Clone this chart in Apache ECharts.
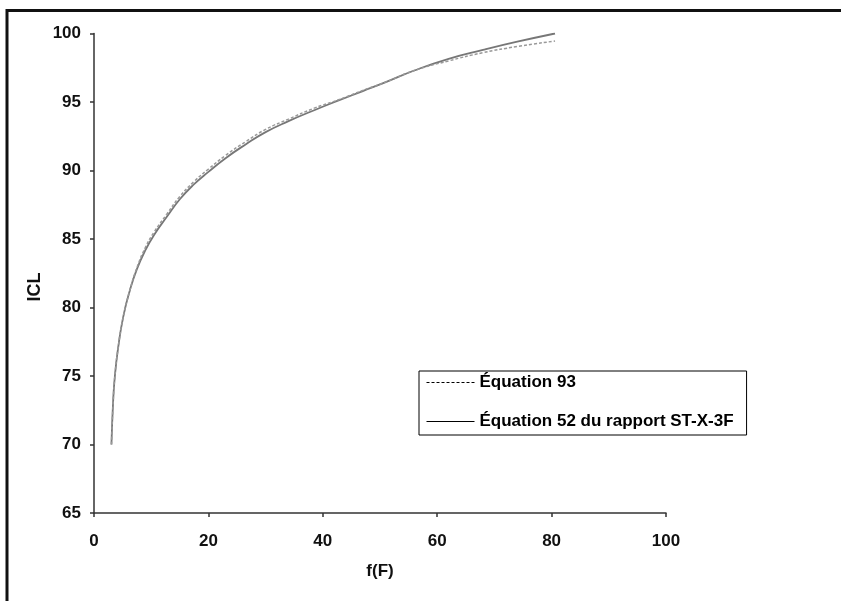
<!DOCTYPE html>
<html>
<head>
<meta charset="utf-8">
<script src="https://cdn.jsdelivr.net/npm/echarts@6/dist/echarts.min.js"></script>
<style>
  html, body { margin: 0; padding: 0; background: #fff; }
  #chart { width: 841px; height: 601px; }
</style>
</head>
<body>
<div id="chart"></div>
<script>
// f(F) values
const fValues = [3.05, 3.35, 3.65, 4.2, 5.1, 6.3, 7.5, 9, 10.5, 12.7, 15, 17.5, 20, 23, 26.5, 30, 34, 38.5, 43, 47, 51, 56, 62, 68, 74, 80.6];
// ICL, équation 52 du rapport ST-X-3F (trait plein)
const iclEq52 = [70, 73.2, 75, 77, 79.3, 81.3, 82.8, 84.2, 85.3, 86.6, 87.9, 89, 89.9, 90.9, 91.9, 92.8, 93.6, 94.4, 95.15, 95.8, 96.45, 97.3, 98.15, 98.8, 99.4, 100];
// ICL, équation 93 (pointillé)
const iclEq93 = [70, 73.1, 75, 77, 79.3, 81.3, 82.9, 84.4, 85.5, 86.8, 88.1, 89.2, 90.1, 91.1, 92.1, 93.0, 93.75, 94.55, 95.2, 95.85, 96.45, 97.3, 98.0, 98.6, 99.05, 99.45];
const seriesNames = ["Équation 93", "Équation 52 du rapport ST-X-3F"];

const font = "'Liberation Sans', Arial, sans-serif";

function pairs(xs, ys) {
  return xs.map((x, i) => [x, ys[i]]);
}

const chart = echarts.init(document.getElementById("chart"), null, { renderer: "canvas" });
chart.setOption({
  animation: false,
  backgroundColor: "#fff",
  grid: { left: 94, right: 175, top: 33.5, bottom: 88, containLabel: false },
  xAxis: {
    type: "value",
    min: 0,
    max: 100,
    interval: 20,
    name: "f(F)",
    nameLocation: "middle",
    nameGap: 50,
    nameTextStyle: { fontFamily: font, fontWeight: "bold", fontSize: 17, color: "#111" },
    axisLine: { lineStyle: { color: "#333", width: 1.5 } },
    axisTick: { length: 4, lineStyle: { color: "#333", width: 1.5 } },
    axisLabel: { fontFamily: font, fontWeight: "bold", fontSize: 17, color: "#111", margin: 20 },
    splitLine: { show: false }
  },
  yAxis: {
    type: "value",
    min: 65,
    max: 100,
    interval: 5,
    axisLine: { show: true, lineStyle: { color: "#333", width: 1.5 } },
    axisTick: { show: true, length: 4, lineStyle: { color: "#333", width: 1.5 } },
    axisLabel: { fontFamily: font, fontWeight: "bold", fontSize: 17, color: "#111", margin: 13 },
    splitLine: { show: false }
  },
  legend: {
    orient: "vertical",
    left: 419,
    top: 371,
    padding: [3, 13, 5, 7],
    itemGap: 22,
    itemWidth: 48,
    itemHeight: 14,
    borderColor: "#000",
    borderWidth: 1,
    textStyle: { fontFamily: font, fontWeight: "bold", fontSize: 17, color: "#000" },
    data: [
      {
        name: seriesNames[0],
        itemStyle: { color: "transparent", borderWidth: 0 },
        lineStyle: { color: "#000", type: [3, 2], width: 1 }
      },
      {
        name: seriesNames[1],
        itemStyle: { color: "transparent", borderWidth: 0 },
        lineStyle: { color: "#000", type: "solid", width: 1 }
      }
    ]
  },
  graphic: [
    {
      type: "rect",
      shape: { x: 7, y: 10.5, width: 1200, height: 1000 },
      style: { fill: null, stroke: "#111", lineWidth: 3 },
      silent: true
    },
    {
      type: "text",
      x: 35,
      y: 287,
      rotation: Math.PI / 2,
      style: {
        text: "ICL",
        fontFamily: font,
        fontWeight: "bold",
        fontSize: 18,
        fill: "#111",
        textAlign: "center",
        textVerticalAlign: "middle"
      }
    }
  ],
  series: [
    {
      name: seriesNames[0],
      type: "line",
      smooth: 0.5,
      symbol: "none",
      data: pairs(fValues, iclEq93),
      lineStyle: { color: "#999", width: 1.5, type: [3, 2] },
      z: 3
    },
    {
      name: seriesNames[1],
      type: "line",
      smooth: 0.5,
      symbol: "none",
      data: pairs(fValues, iclEq52),
      lineStyle: { color: "#777", width: 1.8 },
      z: 2
    }
  ]
});
</script>
</body>
</html>
